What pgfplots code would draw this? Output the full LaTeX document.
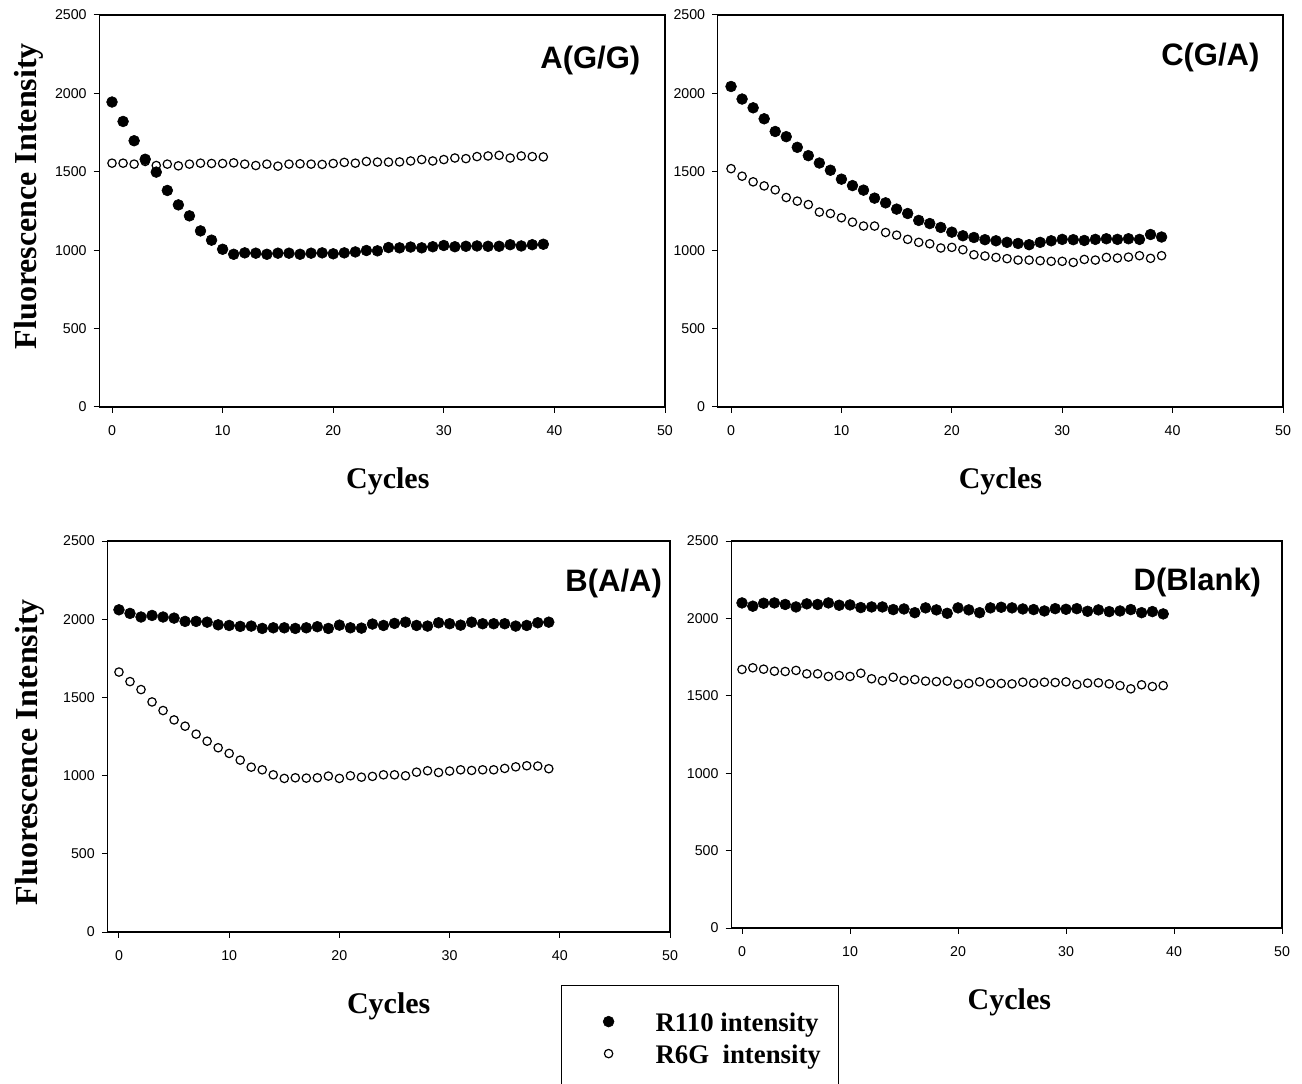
\documentclass[border=0pt]{standalone}
\usepackage{fontspec}
\setmainfont{Liberation Serif}
\newfontfamily\arial{Liberation Sans}
\usepackage{pgfplots}
\pgfplotsset{compat=1.18}

% 1 px of the reference = 0.5pt
\pgfplotsset{
  panel/.style={
    scale only axis, anchor=south west, clip=false,
    xmax=50, ymin=0, ymax=2500,
    xtick={0,10,...,50}, ytick={0,500,...,2500},
    tick align=outside, xtick pos=bottom, ytick pos=left,
    major tick length=2.8pt,
    axis line style={line width=0.6pt},
    every tick/.style={black, line width=0.5pt},
    tick label style={font=\arial\fontsize{7.1}{8}\selectfont},
    xticklabel style={yshift=-3pt},
    /pgf/number format/assume math mode=true,
    /pgf/number format/1000 sep={},
    scaled ticks=false,
    xlabel style={font=\bfseries\fontsize{15}{18}\selectfont,
      at={(axis description cs:0.5,0)}, anchor=center, yshift=-37pt},
    ylabel style={font=\bfseries\fontsize{16}{19}\selectfont, anchor=center},
  },
  r110/.style={only marks, mark=*, mark size=2.7pt,
    mark options={fill=black, draw=black, line width=0.3pt}},
  r6g/.style={only marks, mark=o, mark size=2.1pt,
    mark options={draw=black, line width=0.6pt}},
}
\tikzset{ptitle/.style={anchor=east, inner sep=0pt, font=\arial\bfseries\fontsize{15.5}{18}\selectfont}}

\begin{document}
\begin{tikzpicture}
\useasboundingbox (0,0) rectangle (651pt,541.5pt);
\clip (0,0) rectangle (651pt,541.5pt);

% A(G/G)
\begin{axis}[panel, at={(49.65pt,338pt)}, width=282.85pt, height=196pt, xmin=-1.15,
  xlabel={Cycles}, ylabel={Fluorescence Intensity},
  xlabel style={at={(axis description cs:0.51,0)}},
  ylabel style={at={(axis description cs:-0.124,0.538)}}]
\addplot[r110] coordinates {(0,1945)(1,1821)(2,1698)(3,1580)(4,1498)(5,1381)(6,1289)(7,1219)(8,1123)(9,1064)(10,1006)(11,974)(12,983)(13,981)(14,974)(15,981)(16,981)(17,974)(18,981)(19,983)(20,977)(21,983)(22,989)(23,998)(24,996)(25,1017)(26,1015)(27,1020)(28,1015)(29,1022)(30,1030)(31,1022)(32,1025)(33,1027)(34,1025)(35,1025)(36,1035)(37,1027)(38,1035)(39,1038)};
\addplot[r6g] coordinates {(0,1555)(1,1555)(2,1549)(3,1566)(4,1540)(5,1549)(6,1538)(7,1549)(8,1555)(9,1553)(10,1553)(11,1557)(12,1549)(13,1540)(14,1549)(15,1536)(16,1549)(17,1551)(18,1549)(19,1547)(20,1553)(21,1560)(22,1555)(23,1566)(24,1562)(25,1562)(26,1563)(27,1569)(28,1578)(29,1569)(30,1578)(31,1588)(32,1584)(33,1597)(34,1601)(35,1605)(36,1588)(37,1601)(38,1597)(39,1595)};
\node[ptitle] at (axis cs:47.8,2210) {A(G/G)};
\end{axis}

% C(G/A)
\begin{axis}[panel, at={(358.9pt,338pt)}, width=282.6pt, height=196pt, xmin=-1.2,
  xlabel={Cycles}]
\addplot[r110] coordinates {(0,2044)(1,1964)(2,1908)(3,1838)(4,1757)(5,1724)(6,1656)(7,1603)(8,1556)(9,1510)(10,1453)(11,1412)(12,1383)(13,1332)(14,1302)(15,1262)(16,1234)(17,1190)(18,1170)(19,1145)(20,1115)(21,1092)(22,1081)(23,1067)(24,1060)(25,1050)(26,1043)(27,1035)(28,1050)(29,1060)(30,1069)(31,1067)(32,1062)(33,1069)(34,1073)(35,1069)(36,1073)(37,1069)(38,1100)(39,1084)};
\addplot[r6g] coordinates {(0,1520)(1,1472)(2,1436)(3,1410)(4,1385)(5,1336)(6,1313)(7,1291)(8,1243)(9,1234)(10,1207)(11,1179)(12,1154)(13,1154)(14,1113)(15,1096)(16,1069)(17,1050)(18,1041)(19,1014)(20,1018)(21,1003)(22,971)(23,963)(24,954)(25,946)(26,937)(27,937)(28,933)(29,929)(30,929)(31,922)(32,941)(33,937)(34,954)(35,950)(36,956)(37,965)(38,948)(39,965)};
\node[ptitle] at (axis cs:47.9,2227) {C(G/A)};
\end{axis}

% B(A/A)
\begin{axis}[panel, at={(53.7pt,75.5pt)}, width=281.3pt, height=195.5pt, xmin=-1.05,
  xlabel={Cycles}, ylabel={Fluorescence Intensity},
  ylabel style={at={(axis description cs:-0.1376,0.46)}}]
\addplot[r110] coordinates {(0,2060)(1,2037)(2,2014)(3,2024)(4,2014)(5,2007)(6,1986)(7,1986)(8,1981)(9,1964)(10,1960)(11,1954)(12,1956)(13,1941)(14,1945)(15,1945)(16,1941)(17,1945)(18,1952)(19,1941)(20,1962)(21,1945)(22,1943)(23,1969)(24,1960)(25,1973)(26,1981)(27,1960)(28,1956)(29,1977)(30,1971)(31,1962)(32,1981)(33,1971)(34,1971)(35,1971)(36,1956)(37,1960)(38,1977)(39,1981)};
\addplot[r6g] coordinates {(0,1662)(1,1601)(2,1550)(3,1471)(4,1416)(5,1356)(6,1316)(7,1265)(8,1220)(9,1178)(10,1142)(11,1099)(12,1054)(13,1037)(14,1005)(15,982)(16,986)(17,984)(18,986)(19,997)(20,982)(21,999)(22,990)(23,995)(24,1005)(25,1005)(26,999)(27,1022)(28,1031)(29,1020)(30,1029)(31,1037)(32,1033)(33,1037)(34,1037)(35,1046)(36,1056)(37,1063)(38,1061)(39,1044)};
\node[ptitle] at (axis cs:49.3,2228) {B(A/A)};
\end{axis}

% D(Blank) with the legend
\begin{axis}[panel, at={(365.6pt,77.5pt)}, width=275.4pt, height=193.5pt, xmin=-1,
  xlabel={Cycles},
  xlabel style={at={(axis description cs:0.505,0)}},
  legend style={at={(-0.309,-0.1473)}, anchor=north west, draw=black, line width=0.6pt,
    inner xsep=0pt, inner ysep=12.5pt, column sep=18.75pt, row sep=1.5pt,
    font=\bfseries\fontsize{13.4}{16}\selectfont,
    nodes={inner xsep=2pt, inner ysep=1pt, text height=9.5pt, text depth=3pt}},
  legend cell align=left,
  legend image code/.code={\path[draw=none, fill=none] (-23.5pt,0pt) rectangle (2.75pt,1pt);
    \draw[#1] plot coordinates {(0pt,1.75pt)};}]
\addplot[r110] coordinates {(0,2100)(1,2079)(2,2098)(3,2100)(4,2090)(5,2074)(6,2094)(7,2090)(8,2100)(9,2085)(10,2087)(11,2070)(12,2074)(13,2074)(14,2057)(15,2061)(16,2037)(17,2068)(18,2055)(19,2033)(20,2068)(21,2055)(22,2037)(23,2068)(24,2072)(25,2068)(26,2061)(27,2057)(28,2048)(29,2063)(30,2059)(31,2063)(32,2046)(33,2055)(34,2044)(35,2048)(36,2057)(37,2037)(38,2044)(39,2029)};
\addlegendentry{\makebox[89.5pt][l]{R110 intensity}}
\addplot[r6g] coordinates {(0,1670)(1,1681)(2,1672)(3,1659)(4,1657)(5,1664)(6,1642)(7,1642)(8,1625)(9,1631)(10,1625)(11,1646)(12,1610)(13,1597)(14,1620)(15,1599)(16,1605)(17,1595)(18,1592)(19,1595)(20,1575)(21,1580)(22,1590)(23,1580)(24,1580)(25,1577)(26,1588)(27,1582)(28,1588)(29,1586)(30,1590)(31,1573)(32,1582)(33,1584)(34,1577)(35,1566)(36,1545)(37,1571)(38,1560)(39,1566)};
\addlegendentry{\makebox[89.5pt][l]{R6G\ \ intensity}}
\node[ptitle] at (axis cs:48.1,2230) {D(Blank)};
\end{axis}
\end{tikzpicture}
\end{document}
